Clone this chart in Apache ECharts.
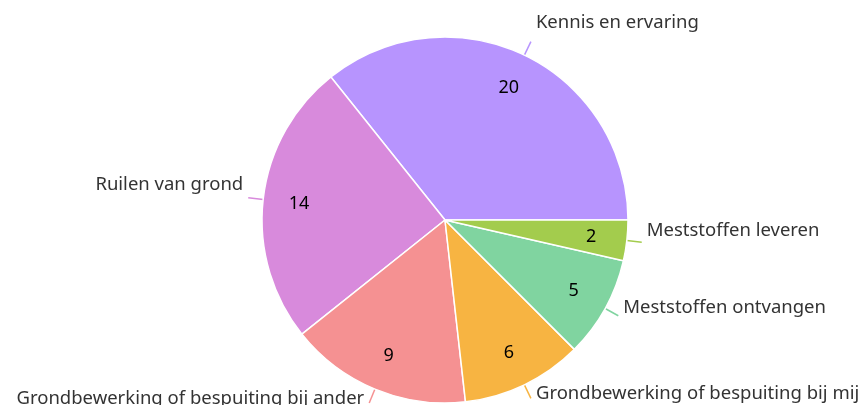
<!DOCTYPE html>
<html>
<head>
<meta charset="utf-8">
<script src="https://cdn.jsdelivr.net/npm/echarts@6/dist/echarts.min.js"></script>
<style>
  html, body { margin: 0; padding: 0; background: #fff; }
  #chart { width: 862px; height: 405px; }
</style>
</head>
<body>
<div id="chart"></div>
<script>
// categories and values, in drawing order (counter-clockwise from 3 o'clock)
const categories = [
  'Kennis en ervaring',
  'Ruilen van grond',
  'Grondbewerking of bespuiting bij ander',
  'Grondbewerking of bespuiting bij mij',
  'Meststoffen ontvangen',
  'Meststoffen leveren'
];
const values = [20, 14, 9, 6, 5, 2];
const colors = ['#b794fe', '#d88adc', '#f59192', '#f7b442', '#80d4a0', '#a3cc4d'];

const FONT = 'Noto Sans';

// names sit a bit above the end of their label line, more so at the top of the pie
const total = values.reduce((a, b) => a + b, 0);
let acc = 0;
const pieData = categories.map((name, i) => {
  const mid = (acc + values[i] / 2) / total * 2 * Math.PI;
  acc += values[i];
  const lift = 12 + 8 * Math.sin(mid);
  return {
    name: name,
    value: values[i],
    itemStyle: { color: colors[i] },
    label: { lineHeight: lift * 2 },
    labelLine: { lineStyle: { color: colors[i] } }
  };
});

const chart = echarts.init(document.getElementById('chart'));

chart.setOption({
  animation: false,
  series: [{
    // the pie itself + outer name labels
    type: 'pie',
    center: [445, 220],
    radius: [0, 183],
    startAngle: 0,
    clockwise: false,
    avoidLabelOverlap: false,
    itemStyle: { borderColor: '#fff', borderWidth: 1.5 },
    label: {
      show: true,
      position: 'outside',
      // empty second line lifts the name above the end of the label line
      formatter: '{b}\n ',
      color: '#333',
      fontFamily: FONT,
      fontSize: 18.5,
      distanceToLabelLine: 5
    },
    labelLine: { show: true, length: 15, length2: 0, lineStyle: { width: 1.5 } },
    emphasis: { disabled: true },
    data: pieData
  }, {
    // transparent ring, only used to place the value labels
    type: 'pie',
    center: [445, 220],
    radius: [105, 183],
    startAngle: 0,
    clockwise: false,
    silent: true,
    itemStyle: { color: 'transparent' },
    label: {
      show: true,
      position: 'inner',
      formatter: '{c}',
      color: '#000',
      fontFamily: FONT,
      fontSize: 18
    },
    labelLine: { show: false },
    data: categories.map((name, i) => ({ name: name, value: values[i] }))
  }]
});
</script>
</body>
</html>
